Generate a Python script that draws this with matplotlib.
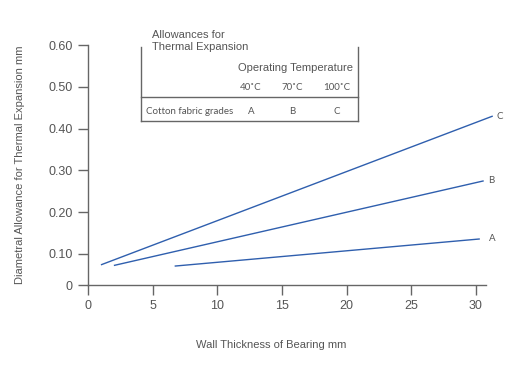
import numpy as np
import matplotlib
matplotlib.use("Agg")
import matplotlib.pyplot as plt

# data
wall_a = [6.7, 30.3]
allow_a = [0.061, 0.136]
wall_b = [2.0, 30.6]
allow_b = [0.063, 0.275]
wall_c = [1.0, 31.3]
allow_c = [0.065, 0.43]
grades = ["A", "B", "C"]
temps = ["40˚C", "70˚C", "100˚C"]
x_ticks = [0, 5, 10, 15, 20, 25, 30]
y_ticks = [0, 0.1, 0.2, 0.3, 0.4, 0.5, 0.6]
y_labels = ["0", "0.10", "0.20", "0.30", "0.40", "0.50", "0.60"]

LINE = "#2f5fae"
GREY = "#555555"
AXIS = "#666666"
W, H = 520, 380


def fx(px):
    return px / W


def fy(py):
    return 1 - py / H


# the original squeezes the 0 - 0.10 band of the y axis
def fwd(y):
    y = np.asarray(y, dtype=float)
    return np.where(y < 0.1, y * 3.1, 0.31 + (y - 0.1) * 4.18)


def inv(u):
    u = np.asarray(u, dtype=float)
    return np.where(u < 0.31, u / 3.1, 0.1 + (u - 0.31) / 4.18)


fig = plt.figure(figsize=(5.2, 3.8), dpi=100)
ax = fig.add_axes([fx(88), fy(285), fx(486.3) - fx(88), fy(45) - fy(285)])
ax.set_yscale("function", functions=(fwd, inv))

for xs, ys, lab in zip([wall_a, wall_b, wall_c], [allow_a, allow_b, allow_c], grades):
    ax.plot(xs, ys, color=LINE, lw=1.0, clip_on=False, solid_capstyle="butt")
    off = {"A": 12, "B": 8, "C": 7}[lab]
    ax.annotate(lab, (xs[-1], ys[-1]), xytext=(off * 0.72, 0), textcoords="offset points",
                ha="center", va="center", fontsize=7, color=GREY,
                family=["Lato", "DejaVu Sans"], annotation_clip=False)

ax.set_xlim(0, 30.8)
ax.set_ylim(0, 0.6)
ax.set_xticks(x_ticks)
ax.set_xticklabels([str(t) for t in x_ticks])
ax.set_yticks(y_ticks)
ax.set_yticklabels(y_labels)
ax.yaxis.set_minor_locator(matplotlib.ticker.NullLocator())

for s in ["top", "right"]:
    ax.spines[s].set_visible(False)
for s in ["left", "bottom"]:
    ax.spines[s].set_color(AXIS)
    ax.spines[s].set_linewidth(1.0)
ax.tick_params(direction="out", length=7, width=1.0, color=AXIS, labelcolor=GREY,
               labelsize=9, pad=4)
for t in ax.get_xticklabels() + ax.get_yticklabels():
    t.set_family(["Liberation Sans", "DejaVu Sans"])

sans = ["Liberation Sans", "DejaVu Sans"]
fig.text(fx(271), fy(345), "Wall Thickness of Bearing mm", ha="center", va="center",
         fontsize=8, color=GREY, family=sans)
fig.text(fx(20), fy(165), "Diametral Allowance for Thermal Expansion mm", ha="center",
         va="center", rotation=90, fontsize=8, color=GREY, family=sans)

# table box
box = dict(color=AXIS, lw=1.0, transform=fig.transFigure)
fig.add_artist(plt.Line2D([fx(140.7), fx(140.7)], [fy(47), fy(121)], **box))
fig.add_artist(plt.Line2D([fx(358.3), fx(358.3)], [fy(47), fy(121)], **box))
fig.add_artist(plt.Line2D([fx(140.7), fx(358.3)], [fy(96.7), fy(96.7)], **box))
fig.add_artist(plt.Line2D([fx(140.7), fx(358.3)], [fy(121), fy(121)], **box))

fig.text(fx(152), fy(35), "Allowances for", ha="left", va="center", fontsize=8,
         color=GREY, family=sans)
fig.text(fx(152), fy(47), "Thermal Expansion", ha="left", va="center", fontsize=8,
         color=GREY, family=sans)
fig.text(fx(296), fy(68), "Operating Temperature", ha="center", va="center", fontsize=8,
         color=GREY, family=sans)
small = ["Lato", "DejaVu Sans"]
fig.text(fx(146), fy(111), "Cotton fabric grades", ha="left", va="center", fontsize=7,
         color=GREY, family=small)
for xp, tmp, g in zip([251, 292, 337], temps, grades):
    fig.text(fx(xp), fy(88), tmp, ha="center", va="center", fontsize=7, color=GREY,
             family=small)
    fig.text(fx(xp), fy(111), g, ha="center", va="center", fontsize=7, color=GREY,
             family=small)

fig.savefig("out.png", dpi=100)
